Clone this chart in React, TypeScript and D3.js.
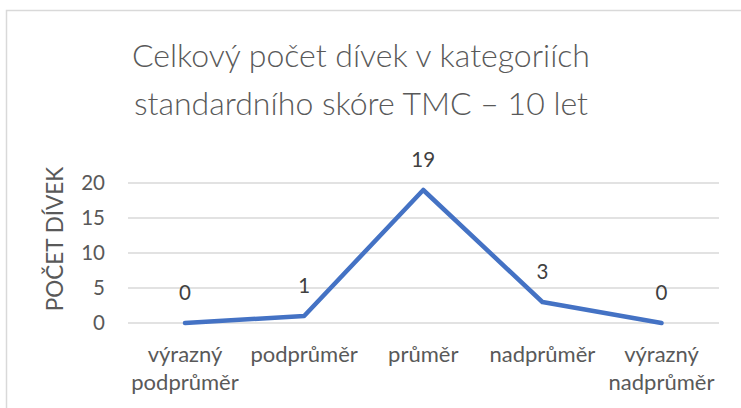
import React from "react";
import * as d3 from "d3";

const categories: string[][] = [
  ["výrazný", "podprůměr"],
  ["podprůměr"],
  ["průměr"],
  ["nadprůměr"],
  ["výrazný", "nadprůměr"],
];
const values: number[] = [0, 1, 19, 3, 0];
const yTicks: number[] = [0, 5, 10, 15, 20];
const titleLines: string[] = ["Celkový počet dívek v kategoriích", "standardního skóre TMC – 10 let"];
const yAxisTitle = "POČET DÍVEK";

const W = 741;
const H = 408;
const FONT = "Lato, 'Open Sans', sans-serif";

export default function App() {
  const x = d3
    .scalePoint<number>()
    .domain(d3.range(categories.length))
    .range([185, 661.5]);
  const y = d3.scaleLinear().domain([0, 20]).range([323, 183]);
  const line = d3
    .line<number>()
    .x((_, i) => x(i) as number)
    .y((d) => y(d));

  return (
    <div style={{ position: "fixed", left: 0, top: 0 }}>
      <svg width={W} height={H} style={{ display: "block", background: "#fff" }}>
        <rect x={6.5} y={10.5} width={W + 10} height={H + 10} fill="#fff" stroke="#d9d9d9" strokeWidth={1.5} />
        {titleLines.map((t, i) => (
          <text
            key={i}
            x={361}
            y={67 + i * 48}
            textAnchor="middle"
            fontFamily={FONT}
            fontSize={32}
            fontWeight={300}
            fill="#595959"
          >
            {t}
          </text>
        ))}
        {yTicks.map((t) => (
          <g key={t}>
            <line x1={128} x2={719} y1={y(t)} y2={y(t)} stroke="#d9d9d9" strokeWidth={1.5} />
            <text
              x={105}
              y={y(t)}
              dy="0.36em"
              textAnchor="end"
              fontFamily={FONT}
              fontSize={20.5}
              fill="#595959"
            >
              {t}
            </text>
          </g>
        ))}
        <text
          transform={`translate(${63},${239}) rotate(-90)`}
          textAnchor="middle"
          fontFamily={FONT}
          fontSize={22.5}
          fill="#595959"
        >
          {yAxisTitle}
        </text>
        {categories.map((lines, i) => (
          <text
            key={i}
            x={x(i) as number}
            y={362}
            textAnchor="middle"
            fontFamily={FONT}
            fontSize={22}
            fill="#595959"
          >
            {lines.map((l, j) => (
              <tspan key={j} x={x(i) as number} y={362 + j * 28}>
                {l}
              </tspan>
            ))}
          </text>
        ))}
        <path
          d={line(values) || ""}
          fill="none"
          stroke="#4472C4"
          strokeWidth={4.5}
          strokeLinecap="round"
          strokeLinejoin="round"
        />
        {values.map((v, i) => (
          <text
            key={i}
            x={x(i) as number}
            y={y(v) - 23}
            textAnchor="middle"
            fontFamily={FONT}
            fontSize={20.5}
            fill="#404040"
          >
            {v}
          </text>
        ))}
      </svg>
    </div>
  );
}
